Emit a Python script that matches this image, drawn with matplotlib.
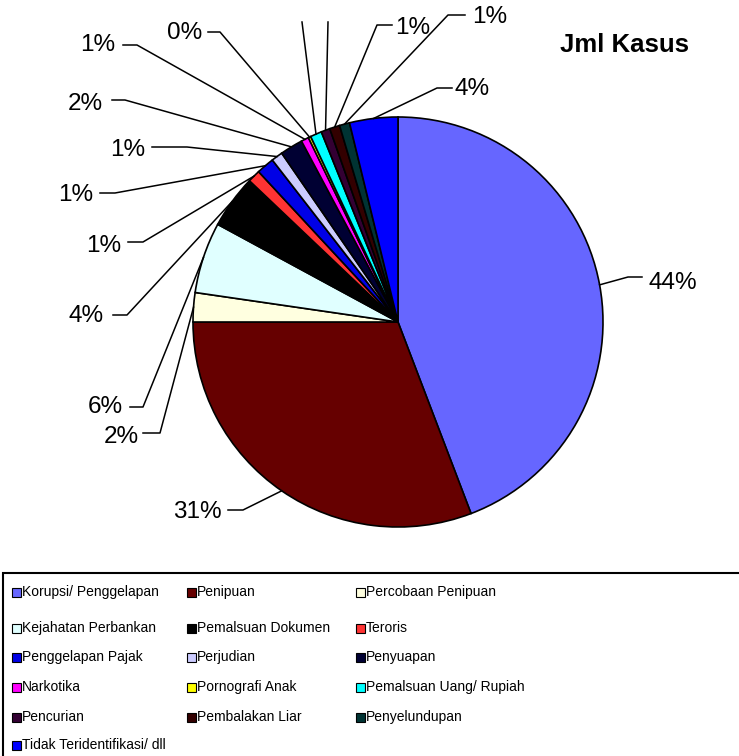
import matplotlib
matplotlib.use("Agg")
import matplotlib.pyplot as plt
from matplotlib.patches import Rectangle
import numpy as np

plt.rcParams["font.family"] = ["Liberation Sans", "DejaVu Sans"]

W, H = 739, 756

categories = [
    "Korupsi/ Penggelapan", "Penipuan", "Percobaan Penipuan",
    "Kejahatan Perbankan", "Pemalsuan Dokumen", "Teroris",
    "Penggelapan Pajak", "Perjudian", "Penyuapan",
    "Narkotika", "Pornografi Anak", "Pemalsuan Uang/ Rupiah",
    "Pencurian", "Pembalakan Liar", "Penyelundupan",
    "Tidak Teridentifikasi/ dll",
]
shares = [44.2, 30.8, 2.3, 5.6, 4.2, 1.0, 1.4, 0.9, 1.8,
          0.6, 0.2, 0.9, 0.7, 0.8, 0.8, 3.8]
colors = [
    "#6666FF", "#660000", "#FFFFE0", "#E0FFFF", "#000000", "#FF3333",
    "#0000E6", "#CCCCFF", "#000033", "#FF00FF", "#FFFF00", "#00FFFF",
    "#330033", "#330000", "#003333", "#0000FF",
]

# label layout in image pixels: text centre, end of horizontal tick, knee
# None text -> label fell outside the picture, only the leader is visible
label_layout = [
    ((673, 283), (642, 277), (628, 277)),
    ((197, 512), (228, 510), (243, 510)),
    ((121, 437), (143, 433), (160, 433)),
    ((105, 407), (130, 407), (143, 407)),
    ((86, 316), (113, 315), (127, 315)),
    ((104, 246), (128, 242), (143, 242)),
    ((76, 195), (100, 193), (115, 193)),
    ((128, 150), (152, 147), (187, 147)),
    ((85, 104), (112, 100), (125, 100)),
    ((98, 45), (123, 45), (137, 45)),
    ((185, 33), (208, 32), (220, 32)),
    (None, (302, 22), (302, 22)),
    (None, (328, 22), (328, 22)),
    ((413, 28), (392, 25), (377, 25)),
    ((490, 17), (465, 15), (448, 15)),
    ((472, 89), (452, 88), (437, 88)),
]


def Y(y):
    return H - y


cx, cy, r = 398, 322, 205

fig = plt.figure(figsize=(W / 100, H / 100), dpi=100)
ax = fig.add_axes([0, 0, 1, 1])
wedges, _ = ax.pie(
    shares, colors=colors, startangle=90, counterclock=False,
    center=(cx, Y(cy)), radius=r,
    wedgeprops=dict(edgecolor="black", linewidth=1.2),
)
ax.set_xlim(0, W)
ax.set_ylim(0, H)
ax.set_aspect("equal")
ax.axis("off")

total = sum(shares)
for w, val, (tpos, hend, knee) in zip(wedges, shares, label_layout):
    mid = np.deg2rad((w.theta1 + w.theta2) / 2)
    ex, ey = cx + r * np.cos(mid), cy - r * np.sin(mid)
    ax.plot([ex, knee[0], hend[0]], [Y(ey), Y(knee[1]), Y(hend[1])],
            color="black", linewidth=1.1, zorder=3)
    if tpos is not None:
        ax.text(tpos[0], Y(tpos[1]), f"{round(val / total * 100):.0f}%",
                fontsize=17.5, ha="center", va="center")

ax.text(625, Y(45), "Jml Kasus", fontsize=18.5, fontweight="bold",
        ha="center", va="center")

# legend box
ax.add_patch(Rectangle((3, Y(760)), 760, 760 - 573, fill=False,
                       edgecolor="black", linewidth=1.5, clip_on=False))
col_x = [12, 187, 356]
row_y = [592, 628, 657, 687, 717, 745]
sq = 9
for i, (name, c) in enumerate(zip(categories, colors)):
    x0, y0 = col_x[i % 3], row_y[i // 3]
    ax.add_patch(Rectangle((x0, Y(y0) - sq / 2), sq, sq, facecolor=c,
                           edgecolor="black", linewidth=0.8))
    ax.text(x0 + sq + 1, Y(y0), name, fontsize=10, ha="left", va="center")

fig.savefig("out.png", dpi=100)
